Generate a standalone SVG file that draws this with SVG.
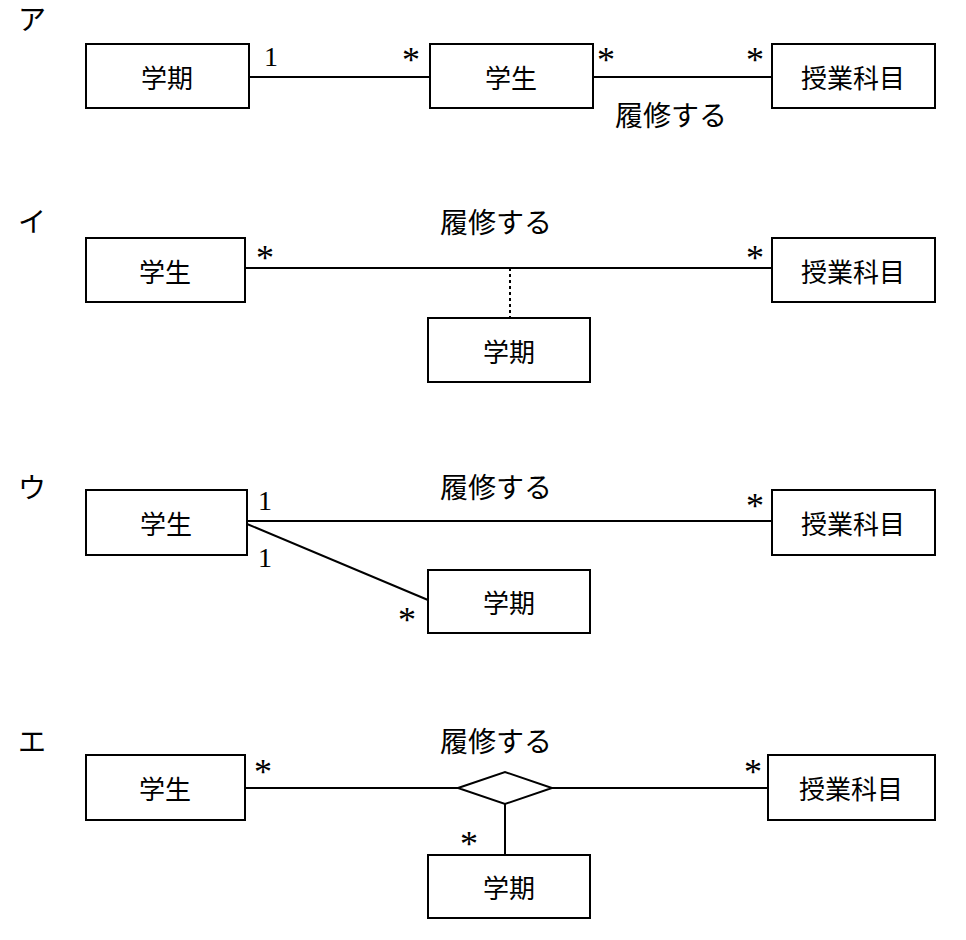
<svg xmlns="http://www.w3.org/2000/svg" width="966" height="940" viewBox="0 0 966 940">
<style>
.b{fill:#fff;stroke:#000;stroke-width:2}
.t{font-family:"Noto Sans CJK JP","Noto Sans",sans-serif;font-size:26px;text-anchor:middle;dominant-baseline:central}
.m{font-family:"Liberation Serif","Noto Sans CJK JP",serif;font-size:28px}
.s{font-size:36px}
.l{stroke:#000;stroke-width:2;fill:none}
</style>
<rect width="966" height="940" fill="#fff"/>
<g id="labels" class="m">
<text x="18" y="30">ア</text><text x="18" y="232">イ</text><text x="18" y="498">ウ</text><text x="18" y="752">エ</text>
</g>
<g id="connectors">
<line class="l" x1="249" y1="77" x2="430" y2="77"/>
<line class="l" x1="593" y1="77" x2="772" y2="77"/>
<line class="l" x1="245" y1="268" x2="772" y2="268"/>
<line class="l" x1="510" y1="268" x2="510" y2="318" stroke-dasharray="3,3"/>
<line class="l" x1="247" y1="521" x2="772" y2="521"/>
<line class="l" x1="247" y1="524" x2="428" y2="600"/>
<line class="l" x1="245" y1="788" x2="458" y2="788"/>
<line class="l" x1="552" y1="788" x2="768" y2="788"/>
<line class="l" x1="505" y1="804" x2="505" y2="855"/>
<polygon class="b" points="458,788 505,772 552,788 505,804"/>
</g>
<g id="mult" class="m">
<text x="264" y="66">1</text><text class="s" x="402" y="72">*</text><text class="s" x="597" y="72">*</text><text class="s" x="746" y="72">*</text>
<text x="615" y="126">履修する</text>
<text class="s" x="256" y="270">*</text><text class="s" x="746" y="270">*</text><text x="440" y="233">履修する</text>
<text x="258" y="510">1</text><text x="258" y="567">1</text><text class="s" x="398" y="632">*</text><text class="s" x="746" y="518">*</text><text x="440" y="498">履修する</text>
<text class="s" x="254" y="784">*</text><text class="s" x="744" y="784">*</text><text class="s" x="460" y="856">*</text><text x="440" y="752">履修する</text>
</g>
<g id="a1"><rect class="b" x="86" y="44" width="163" height="64"/><text class="t" x="167" y="76">学期</text></g>
<g id="a2"><rect class="b" x="430" y="44" width="163" height="64"/><text class="t" x="511" y="76">学生</text></g>
<g id="a3"><rect class="b" x="772" y="44" width="163" height="64"/><text class="t" x="853" y="76">授業科目</text></g>
<g id="i1"><rect class="b" x="86" y="238" width="159" height="64"/><text class="t" x="165" y="270">学生</text></g>
<g id="i2"><rect class="b" x="772" y="238" width="163" height="64"/><text class="t" x="853" y="270">授業科目</text></g>
<g id="i3"><rect class="b" x="428" y="318" width="162" height="64"/><text class="t" x="509" y="350">学期</text></g>
<g id="u1"><rect class="b" x="86" y="490" width="161" height="65"/><text class="t" x="166" y="522">学生</text></g>
<g id="u2"><rect class="b" x="772" y="490" width="163" height="65"/><text class="t" x="853" y="522">授業科目</text></g>
<g id="u3"><rect class="b" x="428" y="570" width="162" height="63"/><text class="t" x="509" y="601">学期</text></g>
<g id="e1"><rect class="b" x="86" y="755" width="159" height="65"/><text class="t" x="165" y="787">学生</text></g>
<g id="e2"><rect class="b" x="768" y="755" width="167" height="65"/><text class="t" x="851" y="787">授業科目</text></g>
<g id="e3"><rect class="b" x="428" y="855" width="162" height="63"/><text class="t" x="509" y="886">学期</text></g>
</svg>
